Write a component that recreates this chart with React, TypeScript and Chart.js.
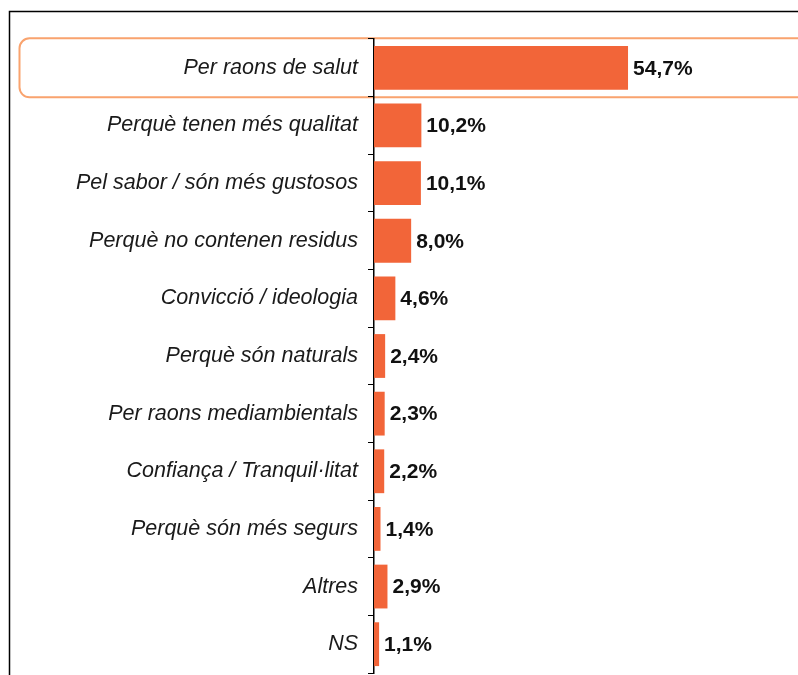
import React, { useEffect, useRef } from "react";
import { Chart, registerables } from "chart.js";

Chart.register(...registerables);

const categories = [
  "Per raons de salut",
  "Perquè tenen més qualitat",
  "Pel sabor / són més gustosos",
  "Perquè no contenen residus",
  "Convicció / ideologia",
  "Perquè són naturals",
  "Per raons mediambientals",
  "Confiança / Tranquil·litat",
  "Perquè són més segurs",
  "Altres",
  "NS",
];
const values = [54.7, 10.2, 10.1, 8.0, 4.6, 2.4, 2.3, 2.2, 1.4, 2.9, 1.1];
const valueLabels = ["54,7%", "10,2%", "10,1%", "8,0%", "4,6%", "2,4%", "2,3%", "2,2%", "1,4%", "2,9%", "1,1%"];
const highlightIndex = 0;

const FONT = "'Liberation Sans', Arial, sans-serif";
const BAR_COLOR = "#F26539";
const HIGHLIGHT_COLOR = "#F9A36E";

export default function App() {
  const ref = useRef<HTMLCanvasElement | null>(null);
  useEffect(() => {
    if (!ref.current) return;
    const highlightPlugin = {
      id: "highlight",
      afterLayout(chart: any) {
        const area = chart.chartArea;
        const y = chart.scales.y;
        const bottom = 673;
        y.bottom = bottom;
        y.height = bottom - y.top;
        area.bottom = bottom;
        area.height = bottom - area.top;
        y.configure();
        chart.scales.x.bottom = bottom;
      },
      beforeDraw(chart: any) {
        const ctx = chart.ctx;
        const y = chart.scales.y;
        const cy = y.getPixelForValue(highlightIndex);
        const top = cy - 29.5;
        const h = 59;
        const left = 19.5;
        const right = 820;
        const r = 10;
        ctx.save();
        ctx.beginPath();
        ctx.moveTo(left + r, top);
        ctx.lineTo(right - r, top);
        ctx.arcTo(right, top, right, top + r, r);
        ctx.lineTo(right, top + h - r);
        ctx.arcTo(right, top + h, right - r, top + h, r);
        ctx.lineTo(left + r, top + h);
        ctx.arcTo(left, top + h, left, top + h - r, r);
        ctx.lineTo(left, top + r);
        ctx.arcTo(left, top, left + r, top, r);
        ctx.closePath();
        ctx.fillStyle = "#ffffff";
        ctx.fill();
        ctx.lineWidth = 2;
        ctx.strokeStyle = HIGHLIGHT_COLOR;
        ctx.stroke();
        ctx.restore();
      },
      afterDatasetsDraw(chart: any) {
        const ctx = chart.ctx;
        const meta = chart.getDatasetMeta(0);
        ctx.save();
        ctx.font = `bold 21px ${FONT}`;
        ctx.fillStyle = "#111111";
        ctx.textAlign = "left";
        ctx.textBaseline = "middle";
        meta.data.forEach((bar: any, i: number) => {
          ctx.fillText(valueLabels[i], bar.x + 5, bar.y + 1);
        });
        ctx.restore();
      },
      afterDraw(chart: any) {
        const ctx = chart.ctx;
        ctx.save();
        ctx.strokeStyle = "#000000";
        ctx.lineWidth = 1.5;
        ctx.beginPath();
        ctx.moveTo(9.5, 700);
        ctx.lineTo(9.5, 11.5);
        ctx.lineTo(800, 11.5);
        ctx.stroke();
        ctx.restore();
      },
    };

    const chart = new Chart(ref.current, {
      type: "bar",
      data: {
        labels: categories,
        datasets: [
          {
            data: values,
            backgroundColor: BAR_COLOR,
            borderWidth: 0,
            barPercentage: 0.76,
            categoryPercentage: 1,
          },
        ],
      },
      options: {
        indexAxis: "y",
        animation: false,
        responsive: false,
        maintainAspectRatio: false,
        layout: { padding: { top: 39, bottom: 2, left: 0, right: 0 } },
        plugins: {
          legend: { display: false },
          tooltip: { enabled: false },
        },
        scales: {
          x: {
            display: false,
            min: 0,
            max: 91.3,
          },
          y: {
            afterFit(scale: any) {
              scale.width = 374;
            },
            grid: {
              offset: true,
              drawOnChartArea: false,
              drawTicks: true,
              tickLength: 6,
              color: "#000000",
              lineWidth: 1,
            },
            border: { display: true, color: "#000000", width: 1.5 },
            ticks: {
              padding: 10,
              color: "#1a1a1a",
              font: { family: FONT, size: 21.5, style: "italic" },
            },
          },
        },
      },
      plugins: [highlightPlugin],
    });
    return () => chart.destroy();
  }, []);

  return (
    <div style={{ position: "absolute", left: 0, top: 0, width: 798, height: 675, background: "#fff" }}>
      <canvas ref={ref} width={798} height={675} style={{ display: "block" }} />
    </div>
  );
}
